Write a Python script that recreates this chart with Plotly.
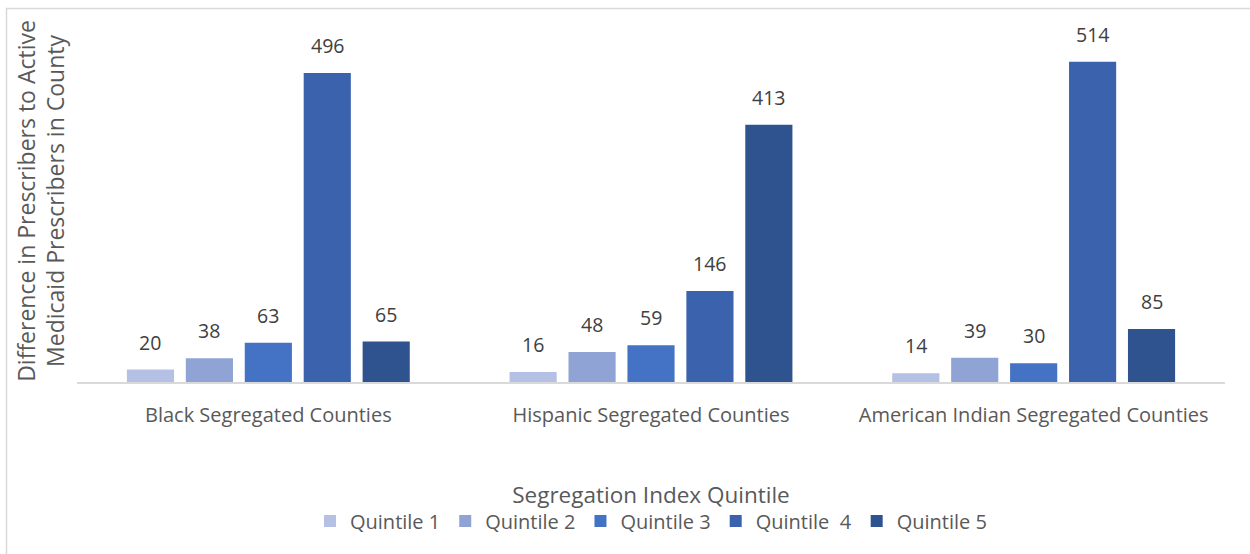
import plotly.graph_objects as go

categories = ["Black Segregated Counties", "Hispanic Segregated Counties", "American Indian Segregated Counties"]
series_names = ["Quintile 1", "Quintile 2", "Quintile 3", "Quintile\u00a0\u00a04", "Quintile 5"]
q1 = [20, 16, 14]
q2 = [38, 48, 39]
q3 = [63, 59, 30]
q4 = [496, 146, 514]
q5 = [65, 413, 85]
series_values = [q1, q2, q3, q4, q5]
colors = ["#b4c1e4", "#8fa4d4", "#4472c4", "#3b63ad", "#2f538f"]

FONT = "Open Sans"
L, R, T, B = 77, 25, 20, 172
W, H = 1250, 554
pw, ph = W - L - R, H - T - B
BARGAP = 0.23
n = len(series_values)
slot = (pw / len(categories)) * (1 - BARGAP) / n

fig = go.Figure()
annotations = []
for i, (name, vals, col) in enumerate(zip(series_names, series_values, colors)):
    fig.add_trace(go.Bar(
        x=categories, y=vals, name=name,
        marker=dict(color=col, line=dict(width=0)),
    ))
    for c, v in zip(categories, vals):
        annotations.append(dict(
            x=c, y=v, xref="x", yref="y", text=str(v), showarrow=False,
            xanchor="center", yanchor="bottom", yshift=12,
            xshift=(i - (n - 1) / 2) * slot,
            font=dict(family=FONT, size=19.5, color="#404040"),
        ))

fig.update_layout(
    width=W, height=H,
    margin=dict(l=L, r=R, t=T, b=B, autoexpand=False),
    paper_bgcolor="white", plot_bgcolor="white",
    barmode="group", bargap=BARGAP, bargroupgap=0.2,
    font=dict(family=FONT, color="#595959"),
    showlegend=True,
    legend=dict(orientation="h", x=0.5, xanchor="center", y=-0.33, yanchor="top",
                font=dict(family=FONT, size=20, color="#595959"),
                itemwidth=30, tracegroupgap=0),
    xaxis=dict(showline=True, linecolor="#d9d9d9", linewidth=1.5, ticks="",
               ticklabelstandoff=14,
               tickfont=dict(family=FONT, size=20, color="#595959"),
               title=dict(text="Segregation Index Quintile", standoff=60,
                          font=dict(family=FONT, size=22.5, color="#595959"))),
    yaxis=dict(range=[0, 581], showgrid=False, showticklabels=False, zeroline=False,
               showline=False, ticks="",
               title=dict(text="Difference in Prescribers to Active<br>Medicaid Prescribers in County",
                          standoff=4, font=dict(family=FONT, size=23, color="#595959"))),
    annotations=annotations,
    shapes=[dict(type="rect", xref="paper", yref="paper",
                 x0=(6.5 - L) / pw, x1=(W + 5 - L) / pw,
                 y0=(H - B - (H + 5)) / ph, y1=(H - B - 8.5) / ph,
                 line=dict(color="#d9d9d9", width=1.5), fillcolor="rgba(0,0,0,0)", layer="below")],
)

fig.write_html("out.html")
